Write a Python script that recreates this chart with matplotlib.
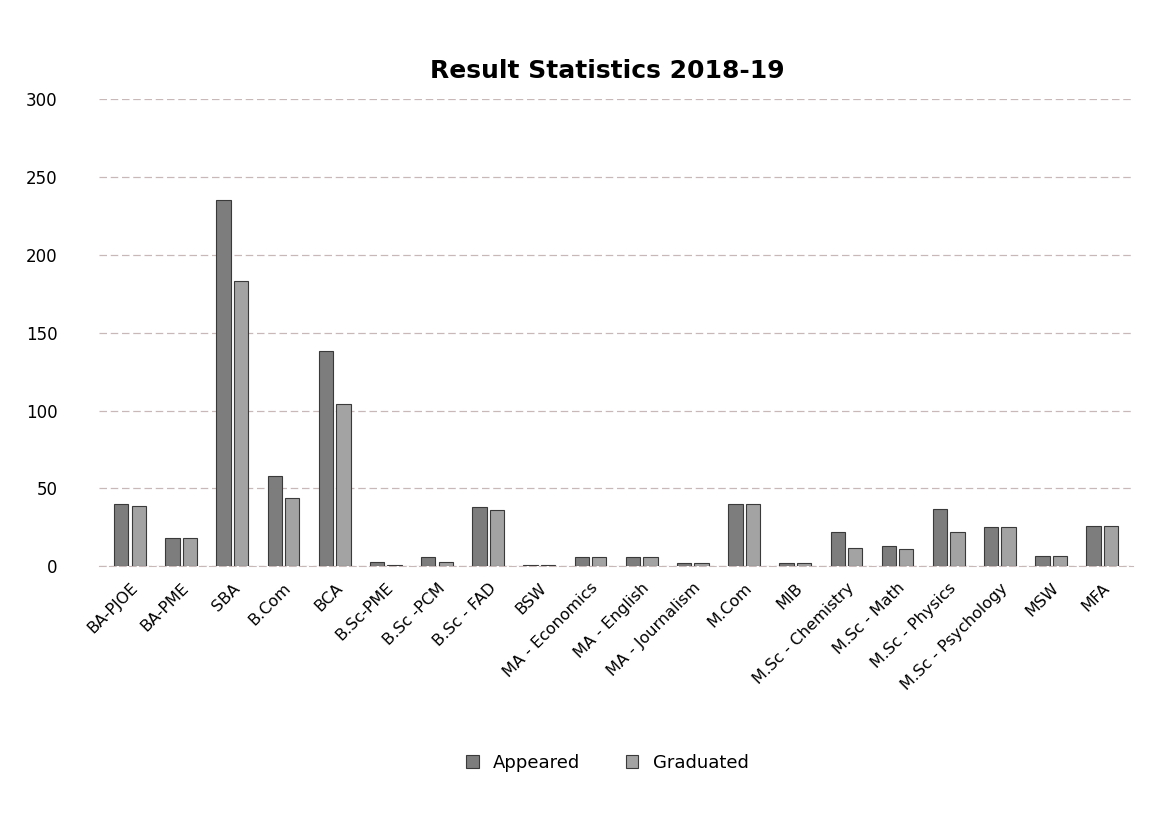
import numpy as np
import matplotlib.pyplot as plt

# Result statistics data
programs = ["BA-PJOE", "BA-PME", "SBA", "B.Com", "BCA", "B.Sc-PME", "B.Sc -PCM",
            "B.Sc - FAD", "BSW", "MA - Economics", "MA - English", "MA - Journalism",
            "M.Com", "MIB", "M.Sc - Chemistry", "M.Sc - Math", "M.Sc - Physics",
            "M.Sc - Psychology", "MSW", "MFA"]
appeared = [40, 18, 235, 58, 138, 3, 6, 38, 1, 6, 6, 2, 40, 2, 22, 13, 37, 25, 7, 26]
graduated = [39, 18, 183, 44, 104, 1, 3, 36, 1, 6, 6, 2, 40, 2, 12, 11, 22, 25, 7, 26]

x = np.arange(len(programs))
width = 0.28

fig = plt.figure(figsize=(11.68, 8.21), dpi=100)
ax = fig.add_axes([0.085, 0.31, 0.885, 0.57])

ax.bar(x - 0.17, appeared, width, color='#7d7d7d', edgecolor='#3a3a3a', linewidth=0.8,
       label='Appeared', zorder=3)
ax.bar(x + 0.17, graduated, width, color='#a3a3a3', edgecolor='#3a3a3a', linewidth=0.8,
       label='Graduated', zorder=3)

ax.set_ylim(0, 300)
ax.set_yticks(range(0, 301, 50))
ax.set_xlim(-0.6, len(programs) - 0.4)
ax.set_xticks(x)
ax.set_xticklabels(programs, rotation=45, ha='right', rotation_mode='anchor', fontsize=11.5)
ax.tick_params(axis='y', labelsize=12, length=0, pad=30)
ax.tick_params(axis='x', length=0, pad=10)
ax.grid(axis='y', color='#c9b8b8', linestyle=(0, (6, 3)), linewidth=0.9, zorder=0)
for side in ['top', 'right', 'left']:
    ax.spines[side].set_visible(False)
ax.spines['bottom'].set_color('#c9b8b8')
ax.spines['bottom'].set_linestyle((0, (6, 3)))

fig.text(0.52, 0.905, 'Result Statistics 2018-19', ha='center', fontsize=18, fontweight='semibold')
fig.legend(loc='lower center', bbox_to_anchor=(0.52, 0.04), ncol=2, frameon=False,
           fontsize=13, handlelength=0.7, handleheight=0.7, columnspacing=2.5)

fig.savefig('out.png', dpi=100, facecolor='white')
